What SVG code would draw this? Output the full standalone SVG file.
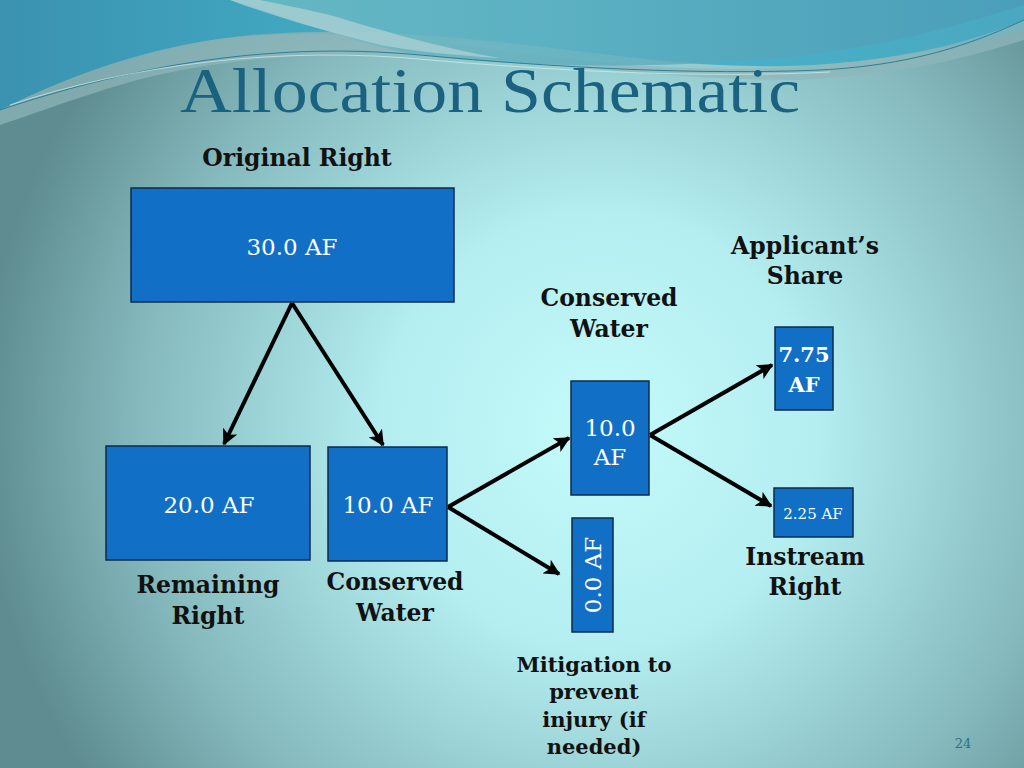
<svg xmlns="http://www.w3.org/2000/svg" width="1024" height="768" viewBox="0 0 1024 768">
<defs>
<radialGradient id="bg" cx="600" cy="430" r="620" gradientUnits="userSpaceOnUse">
<stop offset="0" stop-color="#c4fafa"/>
<stop offset="0.35" stop-color="#b4eef0"/>
<stop offset="0.75" stop-color="#84b8bc"/>
<stop offset="1" stop-color="#5e8c90"/>
</radialGradient>
<linearGradient id="topband" x1="0" y1="0" x2="1" y2="0">
<stop offset="0" stop-color="#3a92b0"/>
<stop offset="0.5" stop-color="#46b6cc"/>
<stop offset="1" stop-color="#4aa8c0"/>
</linearGradient>
<linearGradient id="rband" x1="0" y1="0" x2="1" y2="0">
<stop offset="0" stop-color="#70bcc4"/>
<stop offset="1" stop-color="#4a9cb8"/>
</linearGradient>
<marker id="ah" viewBox="0 0 10 10" refX="9" refY="5" markerWidth="4" markerHeight="4" orient="auto" markerUnits="strokeWidth">
<path d="M0,0 L10,5 L0,10 L2.5,5 z" fill="#000"/>
</marker>
<style>
.box{fill:#116fc6;stroke:#0f2a4a;stroke-width:1.5}
.bt{font-family:"DejaVu Serif",serif;fill:#ffffff;font-size:23px;text-anchor:middle}
.lb{font-family:"DejaVu Serif",serif;font-weight:bold;fill:#111;font-size:23.5px;text-anchor:middle}
.cn{stroke:#000;stroke-width:4;fill:none;marker-end:url(#ah)}
</style>
</defs>
<rect width="1024" height="768" fill="url(#bg)"/>
<!-- top decoration -->
<path d="M0,0 H1024 V30 C900,60 820,70 720,65 C600,60 420,20 250,35 C150,45 60,80 0,110 Z" fill="url(#topband)"/>
<path d="M0,110 C80,70 170,40 260,35 C380,28 480,50 600,62 C700,72 800,72 900,55 C960,45 1000,30 1024,20 V40 C960,60 900,75 800,80 C700,80 600,70 480,58 C360,48 220,55 120,85 C70,100 30,115 0,125 Z" fill="#8fb7ba" opacity="0.7"/>
<path d="M230,0 C300,20 360,45 420,55 C520,68 650,68 760,60 C880,50 960,25 1024,5 V0 Z" fill="url(#rband)" opacity="0.8"/>
<path d="M230,0 C270,15 320,30 380,45 C420,52 460,56 500,58 C440,48 380,30 330,15 C300,8 270,2 260,0 Z" fill="#a9cfd2" opacity="0.8"/>
<path d="M0,110 C120,70 260,40 420,55 C560,68 700,75 820,70 C920,65 980,40 1024,20" fill="none" stroke="#2d7f96" stroke-width="1"/>
<path d="M10,105 C130,65 280,45 430,60 C570,72 710,78 830,72" fill="none" stroke="#d8f4f4" stroke-width="0.8" opacity="0.8"/>
<text x="490" y="112" font-family="Liberation Serif,serif" font-size="64" fill="#1a6280" text-anchor="middle" textLength="620" lengthAdjust="spacingAndGlyphs">Allocation Schematic</text>
<g id="connectors">
<line class="cn" x1="292" y1="303" x2="224" y2="444"/>
<line class="cn" x1="292" y1="303" x2="383" y2="445"/>
<line class="cn" x1="448" y1="507" x2="569" y2="438"/>
<line class="cn" x1="448" y1="507" x2="559" y2="574"/>
<line class="cn" x1="650" y1="435" x2="772" y2="365"/>
<line class="cn" x1="650" y1="435" x2="771" y2="506"/>
</g>
<g id="original">
<text class="lb" x="297" y="166">Original Right</text>
<rect class="box" x="131" y="188" width="323" height="114"/>
<text class="bt" x="292" y="255">30.0 AF</text>
</g>
<g id="remaining">
<rect class="box" x="106" y="446" width="204" height="114"/>
<text class="bt" x="209" y="513">20.0 AF</text>
<text class="lb" x="208" y="593">Remaining</text>
<text class="lb" x="208" y="624">Right</text>
</g>
<g id="conserved1">
<rect class="box" x="328" y="447" width="119" height="114"/>
<text class="bt" x="388" y="513">10.0 AF</text>
<text class="lb" x="395" y="590">Conserved</text>
<text class="lb" x="395" y="621">Water</text>
</g>
<g id="conserved2">
<text class="lb" x="609" y="306">Conserved</text>
<text class="lb" x="609" y="337">Water</text>
<rect class="box" x="571" y="381" width="78" height="114"/>
<text class="bt" x="610" y="436">10.0</text>
<text class="bt" x="610" y="465">AF</text>
</g>
<g id="mitigation">
<rect class="box" x="572" y="518" width="41" height="114"/>
<text class="bt" transform="translate(601,575) rotate(-90)" x="0" y="0">0.0 AF</text>
<text class="lb" style="font-size:21px" x="594" y="672">Mitigation to</text>
<text class="lb" style="font-size:21px" x="594" y="699">prevent</text>
<text class="lb" style="font-size:21px" x="594" y="727">injury (if</text>
<text class="lb" style="font-size:21px" x="594" y="754">needed)</text>
</g>
<g id="applicant">
<text class="lb" x="805" y="254">Applicant’s</text>
<text class="lb" x="805" y="284">Share</text>
<rect class="box" x="775" y="327" width="58" height="83"/>
<text class="bt" style="font-weight:bold;font-size:21px" x="804" y="362">7.75</text>
<text class="bt" style="font-weight:bold;font-size:21px" x="804" y="392">AF</text>
</g>
<g id="instream">
<rect class="box" x="774" y="488" width="79" height="49"/>
<text class="bt" style="font-size:15px" x="813" y="519">2.25 AF</text>
<text class="lb" x="805" y="565">Instream</text>
<text class="lb" x="805" y="595">Right</text>
</g>
<text x="963" y="748" font-family="DejaVu Serif,serif" font-size="13" fill="#2a7088" text-anchor="middle">24</text>
</svg>
